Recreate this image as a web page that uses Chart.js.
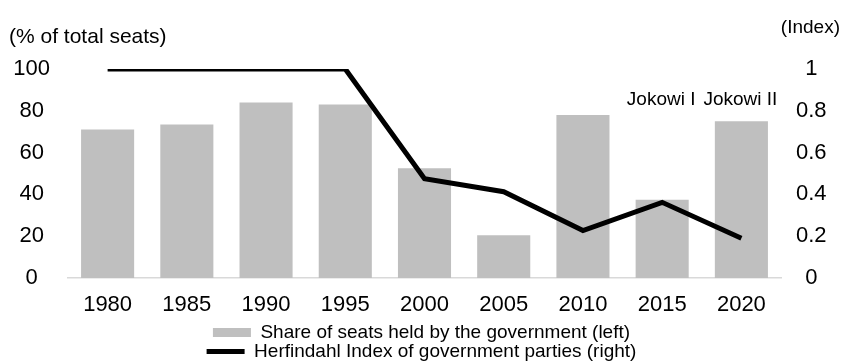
<!DOCTYPE html>
<html>
<head>
<meta charset="utf-8">
<script src="https://cdn.jsdelivr.net/npm/chart.js@4.4.1/dist/chart.umd.min.js"></script>
<style>
  html, body { margin: 0; padding: 0; background: #fff; }
  #wrap { width: 843px; height: 363px; }
</style>
</head>
<body>
<div id="wrap"><canvas id="graph"></canvas></div>
<script>
const years = ['1980', '1985', '1990', '1995', '2000', '2005', '2010', '2015', '2020'];
const seatShare = [71, 73.5, 84, 83, 52.5, 20.5, 78, 37.5, 75];
const herfindahl = [1, 1, 1, 1, 0.475, 0.413, 0.227, 0.362, 0.19];
const noteYears = ['2015', '2020'];
const noteTexts = ['Jokowi I', 'Jokowi II'];

const FONT = '"Liberation Sans", Arial, sans-serif';
Chart.defaults.color = '#000';
Chart.defaults.font.family = FONT;

// axis units and the Jokowi labels
const notes = {
	id: 'notes',
	afterDraw(chart) {
		const ctx = chart.ctx;
		const x = chart.scales.x;
		ctx.save();
		ctx.fillStyle = '#000';
		ctx.font = '21px ' + FONT;
		ctx.textAlign = 'left';
		ctx.fillText('(% of total seats)', 9, 37);
		ctx.font = '19px ' + FONT;
		ctx.textAlign = 'right';
		ctx.fillText('(Index)', 840, 28);
		ctx.textAlign = 'center';
		noteYears.forEach(function(y, i) {
			ctx.fillText(noteTexts[i], x.getPixelForValue(years.indexOf(y)) - 1, 100);
		});
		ctx.restore();
	}
};

const ctx = document.getElementById('graph').getContext('2d');

const myChart = new Chart(ctx, {
	type: 'bar',
	data: {
		labels: years,
		datasets: [{
			label: 'Share of seats held by the government (left)',
			data: seatShare,
			backgroundColor: '#bfbfbf',
			borderWidth: 0,
			pointStyle: 'rect',
			yAxisID: 'y',
			categoryPercentage: 1,
			barPercentage: 0.67,
			order: 2
		}, {
			type: 'line',
			label: 'Herfindahl Index of government parties (right)',
			data: herfindahl,
			borderColor: '#000',
			backgroundColor: '#000',
			borderWidth: 5,
			pointRadius: 0,
			pointStyle: 'line',
			tension: 0,
			yAxisID: 'y1',
			order: 1
		}]
	},
	options: {
		responsive: true,
		maintainAspectRatio: false,
		animation: false,
		layout: {
			padding: { top: 69, bottom: -8, left: 0, right: 0 }
		},
		plugins: {
			tooltip: { enabled: false },
			legend: {
				position: 'bottom',
				labels: {
					usePointStyle: true,
					pointStyleWidth: 38,
					boxHeight: 9,
					padding: 0,
					font: { size: 19 },
					sort: function(a, b) { return a.datasetIndex - b.datasetIndex; }
				}
			}
		},
		scales: {
			x: {
				grid: { display: false, drawTicks: false },
				border: { display: true, color: '#d9d9d9', width: 1.5 },
				ticks: { padding: 14, maxRotation: 0, font: { size: 22 } },
				afterFit: function(scale) { scale.height = 45; }
			},
			y: {
				position: 'left',
				min: 0,
				max: 100,
				grid: { display: false, drawTicks: false },
				border: { display: false },
				ticks: { stepSize: 20, padding: 18, crossAlign: 'center', font: { size: 22 } },
				afterFit: function(scale) { scale.width = 68; }
			},
			y1: {
				position: 'right',
				min: 0,
				max: 1,
				grid: { display: false, drawTicks: false },
				border: { display: false },
				ticks: {
					stepSize: 0.2,
					padding: 15,
					crossAlign: 'center',
					font: { size: 22 },
					callback: function(v) { return String(Math.round(v * 10) / 10); }
				},
				afterFit: function(scale) { scale.width = 62; }
			}
		}
	},
	plugins: [notes]
});
</script>
</body>
</html>
